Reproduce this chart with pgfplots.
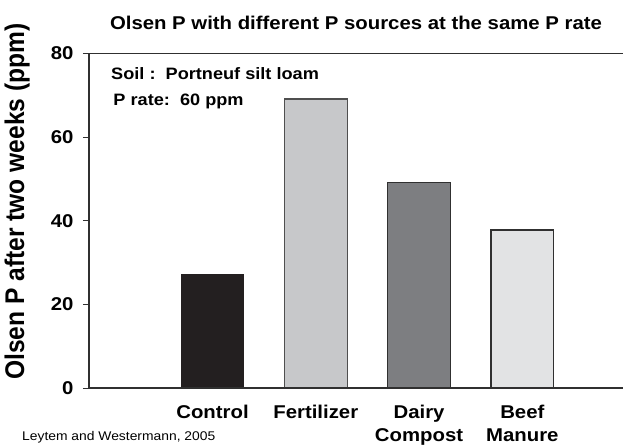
\documentclass[border=0pt]{standalone}
\usepackage{pgfplots}
\pgfplotsset{compat=1.18}
\usepackage{fontspec}
\setmainfont{Liberation Sans}[FakeStretch=1.1]
\newfontfamily\ylfont{Liberation Sans}[FakeStretch=0.91]
\definecolor{cctrl}{HTML}{231F20}
\definecolor{cfert}{HTML}{C7C8CA}
\definecolor{cdairy}{HTML}{7D7E81}
\definecolor{cbeef}{HTML}{E2E3E4}
\definecolor{axc}{HTML}{303030}
\begin{document}
\begin{tikzpicture}
\begin{axis}[name=ax, at={(0,0)}, anchor=south west,
  scale only axis, width=534pt, height=334.5pt,
  xmin=-0.196, xmax=4.975, ymin=0, ymax=80,
  clip=false,
  xtick={1,2,3,4},
  xticklabels={Control, Fertilizer, {Dairy\\Compost}, {Beef\\Manure}},
  xticklabel style={font=\fontsize{18.5}{23}\selectfont\bfseries, align=center, anchor=north, yshift=-8pt},
  ytick={0,20,40,60,80}, ytick pos=left, tick align=outside, major tick length=6pt,
  yticklabel style={font=\fontsize{18.5}{20}\selectfont\bfseries, xshift=-6pt},
  /pgf/number format/assume math mode=true,
  xtick style={draw=none}, ytick style={axc, line width=0.9pt},
  axis line style={draw=none},
  title={Olsen P with different P sources at the same P rate},
  title style={font=\fontsize{18.5}{20}\selectfont\bfseries, at={(axis description cs:0.5,1)}, anchor=base, yshift=18pt},
  ylabel={Olsen P after two weeks (ppm)},
  ylabel style={font=\ylfont\fontsize{27}{29}\selectfont\bfseries, at={(axis description cs:-0.1217,0.5575)}, anchor=base, inner sep=0pt},
]
\addplot[ybar, bar shift=0pt, bar width=0.607, fill=cctrl, draw=cctrl, line width=1.2pt] coordinates {(1,27.1)};
\addplot[ybar, bar shift=0pt, bar width=0.607, fill=cfert, draw=axc!85, line width=1.2pt] coordinates {(2,69.1)};
\addplot[ybar, bar shift=0pt, bar width=0.607, fill=cdairy, draw=axc, line width=1.2pt] coordinates {(3,49.2)};
\addplot[ybar, bar shift=0pt, bar width=0.607, fill=cbeef, draw=axc, line width=1.2pt] coordinates {(4,37.8)};
\draw[axc, line width=1.1pt] (rel axis cs:1,1) -- (rel axis cs:0,1) -- (rel axis cs:0,0) -- (rel axis cs:1,0);
\pgfplotsinvokeforeach{20,40,60}{\draw[axc, line width=0.9pt] (axis cs:4.975,#1) -- ++(-4pt,0);}
\node[anchor=base west, inner sep=0pt, font=\fontsize{16.5}{18}\selectfont\bfseries] at (rel axis cs:0.0412,0.923) {Soil :~~Portneuf silt loam};
\node[anchor=base west, inner sep=0pt, font=\fontsize{16.5}{18}\selectfont\bfseries] at (rel axis cs:0.0455,0.844) {P rate:~~60 ppm};
\node[anchor=base west, inner sep=0pt, font=\fontsize{12.6}{15}\selectfont] at (rel axis cs:-0.1255,-0.1555) {Leytem and Westermann, 2005};
\end{axis}
\pgfresetboundingbox
\path[use as bounding box] (-89pt,-59pt) rectangle (534pt,388pt);
\end{tikzpicture}
\end{document}
